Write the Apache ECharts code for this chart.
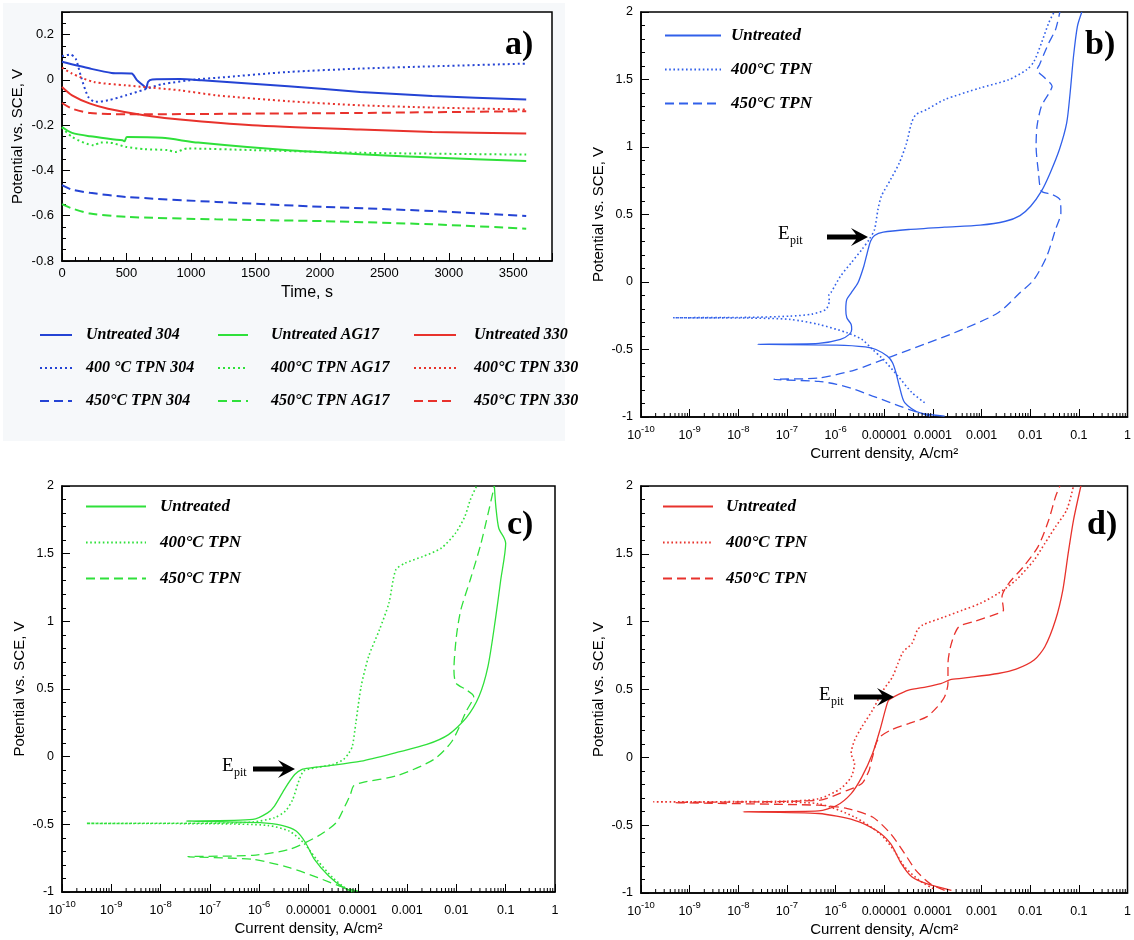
<!DOCTYPE html>
<html>
<head>
<meta charset="utf-8">
<script src="https://cdn.jsdelivr.net/npm/echarts@6/dist/echarts.min.js"></script>
<style>html,body{margin:0;background:#fff}#container{width:1134px;height:940px}</style>
</head>
<body>
<div id="container"></div>
<script>
// ---- a) open circuit potential vs time, [t (s), E (V)] ----
var untreated304 = [[0,0.08],[218,0.05],[385,0.031],[540,0.028],[581,-0.001],[637,-0.028],[652,-0.038],[668,-0.008],[700,0.002],[916,0.004],[1084,-0.002],[1754,-0.028],[2313,-0.053],[2871,-0.071],[3600,-0.087]];
var tpn400_304 = [[0,0.105],[64,0.112],[106,0.094],[148,0.013],[204,-0.075],[260,-0.097],[357,-0.09],[497,-0.068],[637,-0.043],[776,-0.019],[1056,0.003],[1195,0.009],[1754,0.035],[2313,0.05],[2871,0.06],[3600,0.072]];
var tpn450_304 = [[0,-0.465],[78,-0.485],[218,-0.499],[497,-0.517],[1195,-0.539],[2033,-0.561],[2871,-0.579],[3600,-0.601]];
var untreatedAG17 = [[0,-0.208],[78,-0.234],[218,-0.249],[469,-0.267],[485,-0.271],[503,-0.252],[776,-0.256],[1056,-0.277],[1754,-0.311],[2313,-0.328],[2871,-0.343],[3600,-0.358]];
var tpn400_AG17 = [[0,-0.21],[78,-0.252],[246,-0.289],[300,-0.276],[357,-0.276],[497,-0.296],[637,-0.306],[820,-0.31],[880,-0.318],[972,-0.303],[1475,-0.31],[2313,-0.322],[3600,-0.33]];
var tpn450_AG17 = [[0,-0.549],[78,-0.568],[218,-0.59],[497,-0.605],[1195,-0.616],[2033,-0.624],[2871,-0.638],[3600,-0.657]];
var untreated330 = [[0,-0.031],[78,-0.068],[218,-0.105],[357,-0.127],[637,-0.156],[916,-0.175],[1475,-0.2],[2313,-0.219],[2871,-0.23],[3600,-0.237]];
var tpn400_330 = [[0,0.054],[78,0.028],[246,-0.009],[497,-0.024],[916,-0.046],[1195,-0.068],[1754,-0.094],[2313,-0.112],[2871,-0.122],[3600,-0.131]];
var tpn450_330 = [[0,-0.102],[78,-0.127],[218,-0.146],[497,-0.152],[1475,-0.149],[2313,-0.146],[3600,-0.138]];

// ---- b) 304 polarisation, [i (A/cm2), E (V)] ----
var b_untreated = [[1.74e-4,-0.993],[5.25e-5,-0.968],[2.63e-5,-0.894],[2.04e-5,-0.771],[1.74e-5,-0.672],[1.48e-5,-0.598],[1.15e-5,-0.549],[6.76e-6,-0.5],[4.07e-6,-0.48],[1.05e-6,-0.467],[2.51e-8,-0.462],
  [4.47e-7,-0.455],[1.26e-6,-0.425],[1.91e-6,-0.388],[2.14e-6,-0.351],[2.09e-6,-0.314],[1.7e-6,-0.265],[1.62e-6,-0.203],[1.7e-6,-0.129],[2.09e-6,-0.08],[2.88e-6,-0.006],[3.8e-6,0.117],[4.47e-6,0.216],[5.25e-6,0.303],[6.31e-6,0.344],[9.55e-6,0.369],[3.16e-5,0.389],[1.74e-4,0.406],[9.33e-4,0.421],[3.09e-3,0.45],[6.17e-3,0.492],[1.02e-2,0.561],[1.7e-2,0.673],[2.57e-2,0.808],[3.98e-2,0.981],[5.62e-2,1.178],[6.61e-2,1.4],[7.76e-2,1.672],[9.33e-2,1.894],[0.115,2.0]];
var b_tpn400 = [[6.76e-5,-0.894],[3.72e-5,-0.82],[1.91e-5,-0.697],[9.55e-6,-0.574],[5.75e-6,-0.5],[3.47e-6,-0.425],[1.74e-6,-0.376],[4.47e-7,-0.314],[1.15e-7,-0.277],[1.51e-8,-0.267],[4.57e-10,-0.265],
  [1.51e-8,-0.262],[1.15e-7,-0.253],[3.24e-7,-0.238],[6.31e-7,-0.203],[7.41e-7,-0.142],[7.24e-7,-0.092],[8.13e-7,-0.075],[1.26e-6,0.043],[2.09e-6,0.142],[3.47e-6,0.241],[4.9e-6,0.315],[6.31e-6,0.389],[7.41e-6,0.536],[8.71e-6,0.635],[1.35e-5,0.759],[2.04e-5,0.882],[2.88e-5,1.03],[3.63e-5,1.178],[4.47e-5,1.24],[7.41e-5,1.277],[1.74e-4,1.351],[9.33e-4,1.437],[3.63e-3,1.499],[8.51e-3,1.573],[1.2e-2,1.635],[1.7e-2,1.77],[2.4e-2,1.919],[3.09e-2,2.0]];
var b_tpn450 = [[8.71e-5,-0.993],[3.16e-5,-0.943],[1.35e-5,-0.894],[5.75e-6,-0.845],[2.45e-6,-0.795],[1.05e-6,-0.758],[4.47e-7,-0.736],[5.37e-8,-0.721],
  [4.47e-7,-0.711],[2.45e-6,-0.652],[1.35e-5,-0.554],[7.41e-5,-0.455],[4.07e-4,-0.351],[2.19e-3,-0.228],[6.17e-3,-0.08],[1.2e-2,0.019],[2.19e-2,0.19],[3.31e-2,0.389],[4.27e-2,0.512],[4.07e-2,0.611],[2.82e-2,0.648],[1.7e-2,0.673],[1.48e-2,0.808],[1.32e-2,1.006],[1.38e-2,1.154],[1.7e-2,1.302],[2.57e-2,1.413],[2.82e-2,1.45],[2.0e-2,1.511],[1.38e-2,1.573],[1.55e-2,1.61],[2.4e-2,1.77],[3.31e-2,1.869],[4.07e-2,2.0]];

// ---- c) AG17 polarisation ----
var c_untreated = [[8.51e-5,-1.0],[5.13e-5,-0.968],[2.57e-5,-0.882],[1.32e-5,-0.759],[8.71e-6,-0.636],[5.62e-6,-0.55],[2.88e-6,-0.508],[1.05e-6,-0.488],[3.31e-8,-0.476],
  [7.41e-7,-0.464],[1.48e-6,-0.415],[2.04e-6,-0.365],[3.39e-6,-0.23],[5.25e-6,-0.132],[7.24e-6,-0.095],[1.12e-5,-0.083],[2.19e-5,-0.07],[1.17e-4,-0.033],[6.46e-4,0.033],[2.51e-3,0.09],[6.92e-3,0.163],[1.58e-2,0.286],[2.88e-2,0.446],[4.37e-2,0.667],[6.17e-2,1.012],[7.94e-2,1.307],[0.1,1.577],[9.33e-2,1.614],[7.24e-2,1.688],[6.31e-2,1.848],[5.89e-2,2.0]];
var c_tpn400 = [[7.76e-5,-1.0],[6.03e-5,-0.98],[3.09e-5,-0.894],[1.55e-5,-0.771],[7.94e-6,-0.636],[4.07e-6,-0.55],[1.48e-6,-0.508],[1.38e-7,-0.496],[3.16e-10,-0.493],
  [1.38e-7,-0.491],[7.41e-7,-0.483],[2.04e-6,-0.451],[3.39e-6,-0.402],[4.79e-6,-0.316],[6.17e-6,-0.193],[7.94e-6,-0.107],[1.32e-5,-0.083],[3.09e-5,-0.058],[5.13e-5,-0.021],[6.61e-5,0.028],[7.76e-5,0.077],[9.12e-5,0.249],[1.17e-4,0.52],[1.66e-4,0.741],[2.75e-4,0.938],[4.27e-4,1.134],[5.89e-4,1.38],[9.12e-4,1.43],[2.09e-3,1.479],[4.9e-3,1.54],[9.55e-3,1.651],[1.48e-2,1.774],[1.91e-2,1.897],[2.57e-2,2.0]];
var c_tpn450 = [[1.0e-4,-0.993],[4.27e-5,-0.956],[1.55e-5,-0.894],[4.07e-6,-0.82],[7.41e-7,-0.759],[3.55e-8,-0.739],
  [7.41e-7,-0.729],[4.07e-6,-0.685],[1.55e-5,-0.587],[3.63e-5,-0.488],[5.5e-5,-0.365],[7.08e-5,-0.279],[8.13e-5,-0.218],[1.17e-4,-0.193],[6.46e-4,-0.139],[3.47e-3,-0.021],[8.13e-3,0.114],[1.58e-2,0.335],[2.24e-2,0.446],[1.58e-2,0.495],[9.77e-3,0.544],[8.91e-3,0.643],[1.0e-2,0.889],[1.23e-2,1.085],[1.91e-2,1.307],[3.16e-2,1.577],[5.89e-2,2.0]];

// ---- d) 330 polarisation ----
var d_untreated = [[2.4e-4,-0.98],[7.41e-5,-0.931],[3.72e-5,-0.882],[2.24e-5,-0.783],[1.35e-5,-0.636],[6.76e-6,-0.538],[2.45e-6,-0.464],[4.47e-7,-0.414],[1.26e-8,-0.402],
  [4.47e-7,-0.395],[1.05e-6,-0.355],[2.09e-6,-0.267],[3.47e-6,-0.144],[5.75e-6,0.028],[8.13e-6,0.2],[1.05e-5,0.348],[1.23e-5,0.421],[1.58e-5,0.446],[3.16e-5,0.495],[7.41e-5,0.52],[1.45e-4,0.544],[2.4e-4,0.574],[5.62e-4,0.589],[2.19e-3,0.618],[5.13e-3,0.65],[1.2e-2,0.717],[2.0e-2,0.815],[3.31e-2,1.012],[4.68e-2,1.233],[6.03e-2,1.503],[7.76e-2,1.749],[0.11,2.0]];
var d_tpn400 = [[1.02e-4,-0.968],[5.25e-5,-0.907],[2.63e-5,-0.808],[1.58e-5,-0.685],[8.13e-6,-0.563],[2.45e-6,-0.44],[4.47e-7,-0.342],[8.32e-8,-0.331],[1.82e-10,-0.328],
  [8.32e-8,-0.324],[4.47e-7,-0.305],[1.26e-6,-0.231],[2.09e-6,-0.144],[2.45e-6,-0.046],[2.09e-6,0.028],[2.45e-6,0.126],[3.47e-6,0.225],[5.75e-6,0.348],[9.55e-6,0.495],[1.48e-5,0.594],[1.91e-5,0.692],[2.45e-5,0.778],[3.72e-5,0.84],[4.79e-5,0.938],[6.17e-5,0.975],[1.74e-4,1.036],[4.07e-4,1.085],[9.33e-4,1.134],[2.19e-3,1.208],[5.13e-3,1.307],[1.2e-2,1.454],[2.0e-2,1.577],[3.31e-2,1.7],[5.62e-2,1.823],[7.76e-2,2.0]];
var d_tpn450 = [[1.74e-4,-0.98],[8.71e-5,-0.931],[4.47e-5,-0.833],[2.63e-5,-0.71],[1.35e-5,-0.563],[5.75e-6,-0.44],[1.74e-6,-0.378],[4.47e-7,-0.353],[5.01e-10,-0.333],
  [4.47e-7,-0.317],[1.74e-6,-0.243],[3.47e-6,-0.193],[4.9e-6,-0.095],[5.25e-6,-0.046],[5.75e-6,0.003],[6.76e-6,0.1],[8.13e-6,0.15],[1.35e-5,0.2],[3.16e-5,0.249],[7.41e-5,0.298],[1.23e-4,0.372],[1.74e-4,0.446],[2.04e-4,0.544],[2.04e-4,0.692],[2.4e-4,0.84],[3.39e-4,0.962],[6.76e-4,0.999],[2.19e-3,1.061],[2.82e-3,1.085],[2.63e-3,1.184],[3.63e-3,1.283],[7.24e-3,1.405],[1.45e-2,1.553],[2.4e-2,1.749],[3.31e-2,1.921],[4.07e-2,2.0]];

// decade ticks of the current density axes
var decades = [1e-10, 1e-9, 1e-8, 1e-7, 1e-6, 1e-5, 1e-4, 1e-3, 1e-2, 1e-1, 1];

var BLUE_A = '#2443d4', GREEN = '#2fe03a', RED = '#e8322c', BLUE = '#3160ea';
var DOT = [2, 3], DASH = [9, 5];
var sans = 'Liberation Sans', serif = 'Liberation Serif';

// minor ticks of the log axes (2..9 x each decade)
var logMinor = [];
for (var k = -10; k < 0; k++) {
  for (var m = 2; m <= 9; m++) logMinor.push(m * Math.pow(10, k));
}

function fmtCurrent(v) {
  var e = Math.round(Math.log10(v));
  if (e <= -6) return '{b|10}{s|' + e + '}';
  if (e < 0) return '{b|0.' + '0'.repeat(-e - 1) + '1}';
  return '{b|1}';
}

var axisLineStyle = {onZero: false, lineStyle: {color: '#000', width: 1.5}};
var tickStyle = {inside: true, length: 8, lineStyle: {color: '#000', width: 1}};
var minorStyle = {length: 4, lineStyle: {color: '#000', width: 1}};

function logX(gi) {
  return {
    type: 'log', logBase: 10, gridIndex: gi, min: 1e-10, max: 1,
    name: 'Current density, A/cm²', nameLocation: 'middle', nameGap: 29,
    nameTextStyle: {fontFamily: sans, fontSize: 15, color: '#000'},
    axisLine: axisLineStyle,
    axisTick: Object.assign({customValues: decades}, tickStyle),
    axisLabel: {
      customValues: decades,
      formatter: fmtCurrent, margin: 7, color: '#000',
      rich: {
        b: {fontFamily: sans, fontSize: 12.5, color: '#000', lineHeight: 18, verticalAlign: 'bottom'},
        s: {fontFamily: sans, fontSize: 9.5, color: '#000', lineHeight: 12, verticalAlign: 'top'}
      }
    },
    splitLine: {show: false}
  };
}
function potY(gi) {
  return {
    type: 'value', gridIndex: gi, min: -1, max: 2, interval: 0.5,
    name: 'Potential vs. SCE, V', nameLocation: 'middle', nameGap: 35,
    nameTextStyle: {fontFamily: sans, fontSize: 15, color: '#000'},
    axisLine: axisLineStyle, axisTick: tickStyle,
    minorTick: Object.assign({show: true, splitNumber: 5}, minorStyle),
    axisLabel: {fontFamily: sans, fontSize: 12.5, color: '#000', margin: 8},
    splitLine: {show: false}
  };
}
function minorTicks(gi) {
  return {
    type: 'custom', xAxisIndex: gi, yAxisIndex: gi, silent: true, clip: false, z: 5,
    data: logMinor.map(function (v) { return [v, -1]; }),
    renderItem: function (params, api) {
      var p = api.coord([api.value(0), -1]);
      return {type: 'line', shape: {x1: p[0], y1: p[1], x2: p[0], y2: p[1] - 4},
        style: {stroke: '#000', lineWidth: 1}};
    }
  };
}
function curve(name, gi, data, color, dash, w) {
  return {
    name: name, type: 'line', xAxisIndex: gi, yAxisIndex: gi, data: data,
    showSymbol: false, symbol: 'none', smooth: 0.25,
    lineStyle: {color: color, width: w, type: dash}, itemStyle: {color: color}
  };
}
function legendBox(names, left, top, iw, gap, fs, pad) {
  return {
    orient: 'vertical', left: left, top: top, itemWidth: iw, itemHeight: 12, itemGap: gap,
    data: names,
    itemStyle: {opacity: 0},
    formatter: function (n) { return n.split('|')[0]; },
    textStyle: {fontFamily: serif, fontWeight: 'bold', fontStyle: 'italic', fontSize: fs, color: '#000', padding: [0, 0, 0, pad]}
  };
}
function arrow(x1, x2, y) {
  return {type: 'polygon', z: 20, shape: {points: [[x1, y - 2.5], [x2 - 12, y - 2.5], [x2 - 17, y - 9], [x2, y], [x2 - 17, y + 9], [x2 - 12, y + 2.5], [x1, y + 2.5]]},
    style: {fill: '#000'}};
}
function epit(x, y) {
  return [
    {type: 'text', x: x, y: y, z: 20, style: {text: 'E', fontFamily: serif, fontSize: 19, fill: '#000', verticalAlign: 'middle'}},
    {type: 'text', x: x + 12, y: y + 7, z: 20, style: {text: 'pit', fontFamily: serif, fontSize: 12, fill: '#000', verticalAlign: 'middle'}}
  ];
}
function panelTag(t, x, y) {
  return {type: 'text', x: x, y: y, z: 20, style: {text: t, fontFamily: serif, fontWeight: 'bold', fontSize: 34, fill: '#000', verticalAlign: 'middle'}};
}

var dom = document.getElementById('container');
var myChart = echarts.init(dom);
var option = {
  animation: false,
  backgroundColor: '#fff',
  grid: [
    {left: 62, top: 12, width: 490, height: 249, show: true, borderColor: '#000', borderWidth: 1.5, backgroundColor: '#fff'},
    {left: 641, top: 12, width: 491, height: 405, show: true, borderColor: '#000', borderWidth: 1.5, backgroundColor: '#fff'},
    {left: 62, top: 486, width: 493, height: 406, show: true, borderColor: '#000', borderWidth: 1.5, backgroundColor: '#fff'},
    {left: 641, top: 486, width: 491, height: 407, show: true, borderColor: '#000', borderWidth: 1.5, backgroundColor: '#fff'}
  ],
  xAxis: [
    {
      type: 'value', gridIndex: 0, min: 0, max: 3800, interval: 500,
      name: 'Time, s', nameLocation: 'middle', nameGap: 24,
      nameTextStyle: {fontFamily: sans, fontSize: 16, color: '#000'},
      axisLine: axisLineStyle, axisTick: tickStyle,
      minorTick: Object.assign({show: true, splitNumber: 5}, minorStyle),
      axisLabel: {fontFamily: sans, fontSize: 13, color: '#000', margin: 6, showMaxLabel: false,
        formatter: function (v) { return String(v); }},
      splitLine: {show: false}
    },
    logX(1), logX(2), logX(3)
  ],
  yAxis: [
    {
      type: 'value', gridIndex: 0, min: -0.8, max: 0.3, interval: 0.2,
      name: 'Potential vs. SCE, V', nameLocation: 'middle', nameGap: 37,
      nameTextStyle: {fontFamily: sans, fontSize: 15, color: '#000'},
      axisLine: axisLineStyle, axisTick: tickStyle,
      minorTick: Object.assign({show: true, splitNumber: 4}, minorStyle),
      axisLabel: {fontFamily: sans, fontSize: 13, color: '#000', margin: 8, showMaxLabel: false},
      splitLine: {show: false}
    },
    potY(1), potY(2), potY(3)
  ],
  legend: [
    legendBox(['Untreated 304', '400 °C TPN 304', '450°C TPN 304'], 34, 322, 32, 17, 16, 9),
    legendBox(['Untreated AG17', '400°C TPN AG17', '450°C TPN AG17'], 212, 322, 30, 17, 16, 18),
    legendBox(['Untreated 330', '400°C TPN 330', '450°C TPN 330'], 408, 322, 42, 17, 16, 13),
    legendBox(['Untreated|b', '400°C TPN|b', '450°C TPN|b'], 659, 22, 56, 17, 17, 5),
    legendBox(['Untreated|c', '400°C TPN|c', '450°C TPN|c'], 80, 493, 60, 19, 17, 9),
    legendBox(['Untreated|d', '400°C TPN|d', '450°C TPN|d'], 657, 493, 50, 19, 17, 8)
  ],
  series: [
    curve('Untreated 304', 0, untreated304, BLUE_A, 'solid', 2),
    curve('400 °C TPN 304', 0, tpn400_304, BLUE_A, DOT, 2),
    curve('450°C TPN 304', 0, tpn450_304, BLUE_A, DASH, 2),
    curve('Untreated AG17', 0, untreatedAG17, GREEN, 'solid', 2),
    curve('400°C TPN AG17', 0, tpn400_AG17, GREEN, DOT, 2),
    curve('450°C TPN AG17', 0, tpn450_AG17, GREEN, DASH, 2),
    curve('Untreated 330', 0, untreated330, RED, 'solid', 2),
    curve('400°C TPN 330', 0, tpn400_330, RED, DOT, 2),
    curve('450°C TPN 330', 0, tpn450_330, RED, DASH, 2),

    curve('Untreated|b', 1, b_untreated, BLUE, 'solid', 1.3),
    curve('400°C TPN|b', 1, b_tpn400, BLUE, [1.6, 2.6], 1.6),
    curve('450°C TPN|b', 1, b_tpn450, BLUE, [9, 5], 1.3),
    curve('Untreated|c', 2, c_untreated, GREEN, 'solid', 1.3),
    curve('400°C TPN|c', 2, c_tpn400, GREEN, [1.6, 2.6], 1.6),
    curve('450°C TPN|c', 2, c_tpn450, GREEN, [9, 5], 1.3),
    curve('Untreated|d', 3, d_untreated, RED, 'solid', 1.3),
    curve('400°C TPN|d', 3, d_tpn400, RED, [1.6, 2.6], 1.6),
    curve('450°C TPN|d', 3, d_tpn450, RED, [9, 5], 1.3),

    minorTicks(1), minorTicks(2), minorTicks(3)
  ],
  graphic: [
    {type: 'rect', z: -10, shape: {x: 3, y: 3, width: 562, height: 438}, style: {fill: '#f6f8fa'}},
    panelTag('a)', 505, 45), panelTag('b)', 1085, 45), panelTag('c)', 507, 525), panelTag('d)', 1087, 525),
    arrow(827, 868, 237), arrow(253, 295, 769), arrow(854, 894, 697)
  ].concat(epit(778, 234), epit(222, 766), epit(819, 695))
};

if (option && typeof option === 'object') {
  myChart.setOption(option);
}
</script>
</body>
</html>
